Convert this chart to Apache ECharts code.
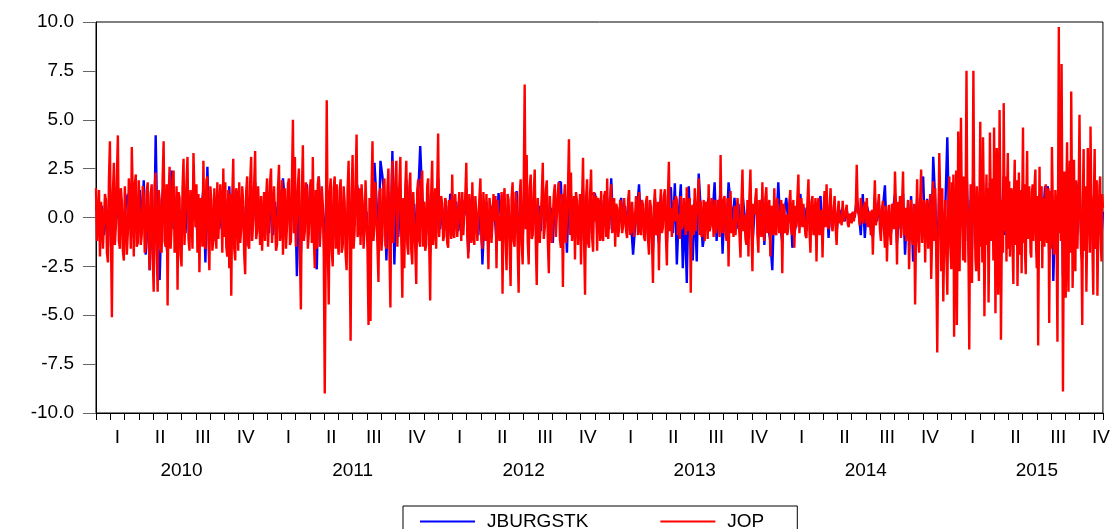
<!DOCTYPE html>
<html>
<head>
<meta charset="utf-8">
<script src="https://cdn.jsdelivr.net/npm/echarts@6.0.0/dist/echarts.min.js"></script>
<style>
  html, body { margin: 0; padding: 0; background: #ffffff; }
  #chart { width: 1113px; height: 529px; }
</style>
</head>
<body>
<div id="chart"></div>
<script>
// Daily returns of JBURGSTK and JOP, one array per calendar year.
const years = [2010, 2011, 2012, 2013, 2014, 2015];
const lastObs = { year: 2015, month: 11, day: 20 };
const quarterLabels = ['I', 'II', 'III', 'IV'];
const seriesNames = ['JBURGSTK', 'JOP'];

const jburgstk2010 = [
  0.4, 0.8, -0.5, 0.6, -0.9, 0.3, -1.5, 1.2, -1.2, 1.0,
  -0.4, 1.1, -0.8, 0.5, -1.1, 0.7, 1.2, -0.6, 1.0, -1.0,
  0.9, -0.7, 1.4, -0.3, 1.9, -1.9, 0.8, -2.7, 0.5, -2.6,
  4.2, -1.5, -3.2, 0.6, 1.8, -0.9, -2.0, 1.2, 2.4, -0.6,
  1.0, -1.6, 0.4, -1.2, 1.6, -0.8, 1.4, -0.5, 0.3, 1.7,
  0.6, -0.9, -1.4, 0.4, 1.5, -2.3, 2.6, -1.1, 0.5, -1.2,
  0.7, 1.0, -0.6, 0.4, 1.2, 0.9, -0.8, 1.6, -1.3, 1.4,
  -1.0, 0.8, 1.0, -0.4, 0.6, -1.5, 1.1, -1.2, 1.6, -0.2,
  1.8, -0.5, 0.3, 0.7, -0.4, -0.9
];
const jburgstk2011 = [
  1.0, -0.8, 1.3, -0.9, 0.8, -0.6, 1.4, -0.3, 2.0, 0.7,
  -0.4, 1.1, -0.7, 2.2, 1.5, -3.0, 1.0, -1.8, 1.6, -0.4,
  1.7, -0.6, 1.2, 1.5, -1.4, -2.65, 2.1, -0.3, 0.6, -2.0,
  1.8, -1.5, 1.0, -1.2, 1.1, 0.8, -1.0, 1.0, -1.4, 0.5,
  -1.3, 1.4, -2.0, 1.5, -0.4, 1.8, 1.2, -0.9, 0.6, -0.4,
  0.3, -1.9, -2.1, 1.6, 2.8, 0.9, -1.5, 2.9, 2.1, 1.0,
  -2.2, 1.3, -1.8, 3.4, -2.4, 1.6, -1.0, 1.4, -1.8, -1.2,
  1.95, -0.8, 1.4, -1.3, 0.7, -1.6, 1.2, 3.65, 1.0, 0.5,
  -0.9, 1.2, -1.8, 1.3, -0.3, -0.8
];
const jburgstk2012 = [
  2.0, -0.6, 0.5, -0.7, 0.6, -0.9, 1.2, 1.1, -0.6, 0.8,
  -0.7, 0.2, 0.9, 0.1, 1.5, -1.8, 0.3, 1.1, -0.8, 0.2,
  -0.9, 1.2, -2.4, 0.1, 0.8, -1.3, 0.6, 0.2, 0.3, -1.2,
  1.25, 0.2, -1.6, 1.0, -1.3, 0.6, -1.5, 0.9, -0.8, 1.35,
  -1.6, 1.1, -1.2, 2.0, 1.2, -1.0, 1.3, -0.4, 1.1, -1.6,
  0.6, -0.7, 1.4, -0.3, 0.9, -1.3, 0.5, -1.3, 1.0, 0.2,
  1.8, 1.8, -1.2, 0.9, -1.8, 1.6, 1.2, -0.7, -1.1, 0.5,
  0.1, -1.2, 1.4, -1.6, 1.0, -0.8, 1.2, 1.2, 1.2, -0.6,
  0.7, 0.9, -0.5, 0.8, 1.0
];
const jburgstk2013 = [
  -0.6, 2.0, -0.4, -0.8, 0.4, -0.2, 1.0, -0.3, 0.6, -0.7,
  0.8, -0.3, -1.9, -0.5, 0.4, 1.7, -0.6, 0.5, -0.9, 0.8,
  -1.2, 0.3, -1.6, 1.0, -0.5, -1.3, 1.0, -0.2, 1.2, -1.3,
  1.2, 1.55, -0.8, 1.75, -2.4, 0.2, 1.7, -2.6, 0.3, -3.35,
  1.6, -0.9, -2.2, 0.9, -2.25, 2.25, 0.4, -1.5, -0.8, 0.4,
  1.0, -0.3, 0.2, 1.8, -1.2, 0.2, 1.4, -1.85, 0.7, -0.7,
  1.8, 0.8, -0.2, 1.0, -0.6, 0.7, -1.2, 1.2, 0.2, -0.8,
  -1.1, 1.2, -1.4, 0.2, 0.9, -1.0, 0.6, 1.0, -1.4, 0.8,
  -0.5, -1.2, -2.7, 0.9, -0.5, 1.8
];
const jburgstk2014 = [
  -0.4, -1.3, 0.3, 1.0, -0.3, 0.8, -1.55, -0.8, -0.3, 1.0,
  1.2, -0.4, 0.5, -0.7, 1.0, -0.9, 0.6, -0.5, -1.1, 0.6,
  1.1, -1.0, 0.8, 1.0, -1.05, 0.8, -0.4, 0.6, -0.8, 0.5,
  0.1, 0.5, -0.2, 0.4, -0.3, 0.1, 0.2, 0.0, 1.0, 0.3,
  -0.9, 1.2, -1.05, 0.6, 0.2, -0.6, -1.0, 1.0, -0.2, 0.7,
  -0.7, 0.5, 1.65, -1.2, 0.4, -0.8, 0.4, 1.2, -1.3, 0.15,
  -0.6, 1.2, -1.9, 0.3, -1.2, 1.1, -2.25, -1.6, 1.0, -0.9,
  1.3, 2.1, -1.2, 0.95, -0.3, -1.7, 3.1, 0.8, -2.4, 1.4,
  -1.3, -1.8, 0.5, 4.1, -1.2
];
const jburgstk2015 = [
  -1.2, 1.5, -2.5, 0.4, -2.0, 1.95, -1.0, 2.2, -0.3, 1.0,
  -1.2, 2.8, 0.1, -2.6, 0.9, -1.6, 2.7, 0.2, -1.2, 0.4,
  -1.5, 2.0, 0.5, 1.8, -2.2, 0.3, 1.5, -1.8, 1.8, -0.6,
  0.8, 1.9, -2.0, 1.5, -1.5, 2.0, -2.2, 0.4, 2.1, -0.9,
  -0.8, 1.2, 0.7, -0.9, 0.6, -1.3, 1.1, -0.2, -1.4, 0.9,
  -0.8, -1.0, 1.7, 0.6, -1.1, 1.3, -0.5, 0.7, -0.9, 0.8,
  0.1, 1.0, -1.0, -2.5, 1.2, 0.3, -1.0, 0.5, 1.6, 0.9,
  1.6, -2.0, 0.6, 1.4, -3.25, -0.6, 0.3, -2.4, 2.75, 0.6,
  2.4, -3.0, 1.0, -1.6, 1.5, -1.5, 1.1, 2.4, -1.4, 1.2,
  -1.1, 0.2, 1.5, 2.0, -0.6, -2.1, 1.4, -0.6, -1.5, 1.4,
  1.8, 1.8, 0.3, -1.5, 1.4, -0.6, -1.6, 0.1, 0.9, -0.9,
  0.3
];

const jop2010 = [
  1.5, -1.2, -0.3, 1.4, -2.0, 0.8, 0.2, -1.6, -1.5, 1.2, 0.9, -1.8, -2.3, 1.9, 3.9, -1.0, -5.1, 1.3, 2.8, -1.4,
  -0.4, 2.1, 4.2, -1.2, -1.6, 1.5, 0.8, -1.7, -2.2, 1.6, 1.5, -1.9, -0.8, 2.0, 0.6, -1.6, 3.6, 1.1, -2.0, 1.7,
  2.2, -1.5, -1.3, 1.9, 2.0, -1.4, -0.9, 1.6, 1.1, -1.8, -1.5, 1.4, 1.8, -1.3, -2.7, 1.2, 1.7, -1.9, -3.8, 1.6,
  2.3, -1.7, -3.8, 1.4, 0.9, -1.5, -1.8, 2.0, 3.9, -1.2, -1.5, 1.7, -4.5, 1.1, 2.6, -1.6, -0.5, 1.9, 2.4, -1.8,
  -1.5, 1.6, -3.7, 1.3, 1.0, -1.9, -2.5, 1.5, 3.0, -1.4, -1.3, 1.8, 3.1, -1.1, -1.7, 1.4, 0.5, -1.6, 3.3, 1.2,
  -0.5, 1.7, -1.8, 1.2, -2.8, 1.0, 0.6, -1.5, 2.9, -1.3, -1.6, 1.9, 2.1, -1.2, -2.7, 1.6, 0.9, -1.7, -1.2, 1.5,
  1.4, -1.6, 1.8, -1.1, -1.2, 1.7, 0.5, -1.8, 2.5, -1.0, 1.8, -1.5, -2.0, 1.4, -2.6, 1.2, -4.0, 1.1, 3.0, -1.6,
  -2.2, 1.5, 1.1, -1.7, 1.8, -1.3, -0.6, 1.6, 0.8, -1.9, -2.9, 1.3, 2.1, -1.4, -1.6, 1.8, 3.1, -1.2, -0.3, 1.7,
  3.4, -1.1, -0.7, 1.6, 0.2, -1.4, 1.1, -1.7, -0.1, 1.3, -1.2, 1.0
];
const jop2011 = [
  2.0, -1.5, -1.4, 1.8, 2.5, -1.3, -1.4, 1.6, 1.5, -1.7, -1.4, 1.5, 2.7, -1.2, -0.7, 1.9, -1.9, 1.1, 1.5, -1.6,
  -0.5, 1.7, 2.0, -1.4, -1.2, 1.9, 5.0, -0.8, 3.1, -1.5, -1.4, 1.6, 2.5, -1.8, -4.7, 1.3, 3.7, -1.2, -0.7, 1.8,
  1.4, -1.6, -0.8, 1.5, 1.95, -1.3, 3.1, -1.1, -2.6, 1.4, -1.6, 1.7, 2.1, -1.5, -0.4, 1.6, 0.7, -1.8, -9.0, -1.4,
  6.0, -1.2, -4.45, 1.3, 2.0, -1.7, -2.5, 1.5, 2.1, -1.6, 1.7, -1.2, -1.9, 1.4, 1.95, -1.8, -1.5, 1.6, 0.8, -1.9,
  -2.7, 1.5, 2.9, -1.3, -6.3, 1.2, 3.2, -1.6, -0.7, 1.8, 4.25, -1.0, -0.7, 1.5, -1.4, 1.7, 0.8, -1.6, -0.7, 1.9,
  0.2, -1.7, -5.5, 1.0, -5.3, 1.4, 3.9, -1.2, -0.3, 1.8, 1.9, -1.5, -3.3, 1.3, 1.5, -1.7, -0.9, 1.6, 2.0, -1.4,
  -1.6, 1.5, 2.5, -1.6, -4.6, 1.2, 2.9, -1.3, -1.4, 1.9, 2.9, -1.5, -1.5, 1.7, 3.1, -1.1, -4.1, 1.0, -2.6, 1.6,
  2.9, -1.4, -1.9, 1.5, 2.3, -1.7, -2.4, 1.3, 1.2, -1.6, -3.4, 1.4, 1.95, -1.2, -1.5, 1.8, 2.4, -1.5, 0.8, -1.7,
  -1.4, 1.6, 2.0, -1.3, -4.25, 1.2, 2.9, -1.4, -0.4, 1.5, -1.6, 1.3
];
const jop2012 = [
  4.3, -1.0, -0.9, 1.1, 0.7, -1.2, -0.95, 1.0, 0.8, -1.3, -1.55, 0.9, 0.7, -1.1, 2.2, -0.8, -1.05, 1.2, 1.2, -1.0,
  -1.1, 1.3, 0.15, -1.2, 1.3, -0.9, 0.15, 1.1, 2.8, -1.0, -2.1, 1.2, 0.2, -1.3, 1.8, -0.9, -1.4, 1.1, 0.15, -1.2,
  -1.2, 1.0, 2.0, -1.1, -1.6, 1.3, 0.0, -1.2, 1.2, -0.8, -2.65, 1.0, 0.5, -1.3, -0.3, 1.2, -0.2, 1.1, -2.6, 0.9,
  0.8, -1.2, -0.5, 1.3, -3.9, 0.8, 1.5, -1.1, -2.7, 1.2, 0.9, -1.4, -3.5, 1.0, 1.8, -1.2, -1.5, 1.3, 0.7, -1.5,
  -3.85, 1.1, 1.95, -1.3, -2.4, 1.4, 6.8, -0.6, 3.2, -1.2, -2.4, 1.5, 2.2, -1.1, -0.9, 1.3, 2.45, -1.2, -3.45, 1.0,
  1.1, -1.3, -1.3, 1.2, 2.8, -1.1, -0.5, 1.4, 1.9, -1.2, -2.85, 1.1, 1.0, -1.3, -1.3, 1.2, 1.7, -1.0, 0.15, 1.3,
  1.8, -1.1, -1.55, 1.2, -3.55, 0.9, 1.7, -1.3, -1.2, 1.4, 4.0, -0.9, 2.3, -1.2, -1.3, 1.1, -2.15, 1.3, 0.85, -1.4,
  -0.1, 1.2, -2.4, 0.8, 3.05, -1.1, -3.95, 1.0, 1.95, -1.3, -1.55, 1.2, 2.45, -1.0, -1.75, 1.3, -0.2, 1.1, -1.7, 1.0,
  0.5, -1.2, 1.35, -0.9, -1.2, 1.1, 1.35, -1.0, 2.0, -1.1
];
const jop2013 = [
  -1.2, 0.9, 1.7, -0.8, -0.8, 1.0, -1.5, 0.7, 0.5, -1.0, -0.5, 0.9, 0.7, -0.8, -0.45, 1.0, 1.0, -0.7, -1.05, 0.9,
  1.4, -0.9, -0.7, 0.8, 0.85, -1.0, -0.9, 1.1, 0.15, -0.9, 1.3, -0.6, -0.9, 0.9, 0.65, -1.0, -1.2, 0.8, 1.1, -1.1,
  -1.9, 0.9, 0.5, -1.2, -3.35, 0.6, 1.45, -0.9, -0.9, 0.8, -2.7, 0.5, 1.45, -0.8, -0.5, 1.1, 1.45, -0.9, -2.45, 1.0,
  2.85, -0.7, 0.5, -1.0, -1.05, 0.9, -0.2, 1.1, 0.9, -0.9, 0.15, -1.1, 1.1, -0.6, -0.4, 1.0, 0.15, -0.9, 1.55, -0.7,
  -0.6, 1.0, -3.85, 0.5, 0.65, -0.9, 1.5, -0.7, -0.8, 1.0, 2.0, -0.9, 0.85, -1.0, -0.4, 0.9, -1.2, 0.8, 0.65, -1.1,
  1.7, -0.7, -0.45, 1.0, 0.15, -1.0, 0.9, -0.8, -0.6, 0.9, 0.15, -1.0, 3.2, -0.6, -0.8, 0.9, 1.1, -0.8, -1.2, 1.0,
  -2.5, 0.6, 1.35, -0.8, -0.1, -1.0, 0.6, -0.9, -0.9, 1.0, 1.1, -0.9, -2.05, 0.8, 2.45, -0.7, 0.15, -1.1, -1.4, 0.9,
  -2.0, 1.1, 2.45, -0.6, -2.75, 0.7, 0.15, 1.0, 1.5, -0.9, -1.8, 0.9, 0.85, -1.0, 1.8, -0.7, -1.2, 1.0, 1.55, -0.8,
  -0.9, 0.9, -2.0, 0.6, 0.3, -0.9, 1.5, -0.7, -0.9, 1.0, 0.15, -0.8
];
const jop2014 = [
  -0.8, 0.9, -2.85, 0.7, 0.5, -0.8, 0.15, -0.9, -0.5, 0.8, 1.4, -0.7, -0.9, 0.9, -1.55, 0.6, -0.5, 1.0, 2.2, -0.8,
  0.15, 1.0, -0.5, 0.7, 0.65, -0.9, -1.05, 0.8, 1.95, -0.7, -1.8, 0.8, 1.1, -0.9, -0.9, 1.0, -2.25, 0.5, 1.0, -0.9,
  -0.2, 0.4, -2.05, 0.3, 1.35, -0.5, 1.7, -0.3, -0.6, 0.5, 1.5, -0.4, -0.7, 0.3, 1.1, -0.5, -1.4, 0.2, 0.85, -0.3,
  0.15, -0.4, 0.85, -0.2, -0.2, 0.3, 0.65, -0.3, -0.5, 0.2, 0.15, -0.3, 0.3, -0.2, -0.1, 0.4, 2.7, 0.3, 0.15, -0.4,
  1.0, 0.2, -0.3, 0.4, 0.8, -0.3, 1.0, -0.5, 0.15, 0.3, -0.9, 0.4, -1.9, 0.2, 1.9, -0.4, -0.35, 0.5, 1.2, -0.6,
  -1.2, 0.4, 0.85, -0.5, -1.55, 0.6, -2.25, -0.3, 0.65, -0.8, -1.4, 0.7, 0.65, -0.6, 2.35, 0.5, -2.4, 0.8, -0.5, 1.1,
  -1.05, 0.6, 2.35, -0.9, 0.5, -1.2, 0.15, 0.9, -2.65, -0.4, 0.9, -1.1, -1.4, 0.7, -4.45, -0.6, 1.95, -1.0, -1.8, 0.8,
  2.45, -1.3, 0.15, 0.9, -2.3, 0.4, 0.9, -1.6, -0.5, 1.2, -3.15, -0.8, 1.85, -1.2, 1.5, -2.0, -6.9, -1.4, 3.3, 1.0,
  -2.75, 1.5, -4.3, -0.9, 0.9, -1.6, -3.95, 0.8, 2.1, -1.5
];
const jop2015 = [
  -2.65, 1.8, -0.9, 2.2, -6.1, -1.5, 0.0, 2.4, -5.5, -1.2, 4.4, -1.8, -2.75, 1.6, 5.1, 1.2, -0.35, -2.2, 2.1, -1.6,
  -2.3, 2.0, 7.5, 1.0, 0.15, -2.4, -6.75, -1.0, 1.7, -1.9, -3.35, 1.4, 7.5, 1.8, 0.15, -2.1, -2.75, 1.6, 0.5, -1.8,
  -3.25, 1.2, 4.9, -1.5, 0.8, -2.3, 4.1, 1.1, -5.05, -1.6, 0.15, 2.2, -1.4, 1.5, -4.35, -1.1, 4.35, 1.3, -1.2, 2.0,
  1.6, -2.2, 4.6, 1.4, -4.9, -1.3, 3.55, 1.7, -3.95, -1.2, 5.5, 1.6, -6.25, -2.0, 0.9, -1.8, 5.85, 1.2, -0.7, 2.1,
  -2.25, 1.3, 3.3, -1.6, 1.85, -2.0, -0.4, 1.5, 1.35, -1.7, -3.4, 1.1, 2.95, -1.4, -0.35, 1.9, -3.5, -1.0, 2.3, -1.5,
  -1.9, 1.4, -2.85, 0.9, 4.6, -1.3, 1.7, -1.9, -2.9, 1.2, 3.4, -1.1, -1.05, 1.6, 1.6, -1.8, -2.05, 1.3, 1.7, -1.2,
  0.15, 1.8, 2.45, -1.4, -2.6, 1.1, -6.55, -1.5, 2.6, -1.2, 0.5, 1.6, -2.6, 1.0, 0.65, -1.5, -0.5, 1.7, 1.0, -1.3,
  -0.2, 1.5, -5.4, -1.0, 1.35, -1.6, 3.6, 1.2, 0.0, -1.9, -1.55, 1.4, 0.6, -2.2, -6.35, 1.8, 9.75, -0.8, 1.5, -1.2,
  7.85, 1.2, -8.9, -2.0, 2.35, -1.6, -4.1, 1.4, 3.85, -2.1, -3.8, 1.6, 2.9, -1.8, 6.45, 1.3, -3.6, -1.2, 2.95, -1.5,
  -2.75, 1.9, 0.15, -1.6, -1.55, 1.8, 5.25, 1.1, -1.4, -2.3, -5.5, 1.2, 3.5, -1.7, -1.4, 1.6, -3.8, -1.1, 3.55, 1.5,
  0.5, -1.8, 4.65, 1.2, 0.65, -2.0, -3.95, 1.3, 3.5, -1.6, -1.4, 1.9, -4.0, -1.3, 0.15, 1.6, 2.1, -1.4, -2.25, 1.2,
  0.5
];

const jburgstkByYear = [jburgstk2010, jburgstk2011, jburgstk2012, jburgstk2013, jburgstk2014, jburgstk2015];
const jopByYear = [jop2010, jop2011, jop2012, jop2013, jop2014, jop2015];

// The x axis counts months since the start of the first year.
const startYear = years[0];
const endMonth = (lastObs.year - startYear) * 12 + (lastObs.month - 1) + (lastObs.day - 1) / 30;

// Trading days are spread evenly within each year; the final year stops at the last observation.
function placeByYear(perYear) {
  const out = [];
  perYear.forEach((vals, k) => {
    const t0 = (years[k] - startYear) * 12;
    const isLast = years[k] === lastObs.year;
    const span = isLast ? endMonth - t0 : 12;
    const steps = isLast ? vals.length - 1 : vals.length;
    vals.forEach((v, j) => out.push([t0 + span * j / steps, v]));
  });
  return out;
}

const FONT = 'Liberation Sans, Arial, sans-serif';
const near = (a, b) => Math.abs(a - b) < 1e-6;

const chart = echarts.init(document.getElementById('chart'), null, { renderer: 'canvas' });
chart.setOption({
  animation: false,
  backgroundColor: '#ffffff',
  grid: {
    left: 96, top: 22, width: 1008, height: 391,
    show: true, borderColor: '#000000', borderWidth: 1, backgroundColor: 'transparent'
  },
  legend: {
    data: seriesNames,
    left: 403, top: 506,
    orient: 'horizontal',
    icon: 'rect',
    itemWidth: 55, itemHeight: 2, itemGap: 72,
    padding: [6, 33, 10, 17],
    borderColor: '#000000', borderWidth: 1,
    textStyle: { fontFamily: FONT, fontSize: 19, color: '#000000', padding: [0, 0, 0, 7] }
  },
  xAxis: [
    { // monthly ticks along the bottom edge
      type: 'value', position: 'bottom', min: 0, max: endMonth, interval: 1,
      axisLine: { show: true, onZero: false, lineStyle: { color: '#000000', width: 1 } },
      axisTick: { show: true, length: 7, lineStyle: { color: '#000000', width: 1 } },
      axisLabel: { show: false }, splitLine: { show: false }
    },
    { // quarter names centred in each quarter
      type: 'value', position: 'bottom', min: 0, max: endMonth, interval: 1.5,
      axisLine: { show: false }, axisTick: { show: false }, splitLine: { show: false },
      axisLabel: {
        margin: 15, fontFamily: FONT, fontSize: 19, color: '#000000', showMaxLabel: false,
        formatter: v => {
          const h = Math.round(v / 1.5);
          if (!near(v, h * 1.5) || h % 2 === 0) return '';
          return quarterLabels[((h - 1) / 2) % 4];
        }
      }
    },
    { // year captions centred under each year
      type: 'value', position: 'bottom', min: 0, max: endMonth, interval: 6,
      axisLine: { show: false }, axisTick: { show: false }, splitLine: { show: false },
      axisLabel: {
        margin: 48, fontFamily: FONT, fontSize: 19, color: '#000000', showMaxLabel: false,
        formatter: v => {
          const h = Math.round(v / 6);
          if (!near(v, h * 6) || h % 2 === 0) return '';
          return String(startYear + (h - 1) / 2);
        }
      }
    }
  ],
  yAxis: {
    type: 'value', min: -10, max: 10, interval: 2.5,
    axisLine: { show: true, onZero: false, lineStyle: { color: '#000000', width: 1 } },
    axisTick: { show: true, length: 13, lineStyle: { color: '#666666', width: 1 } },
    axisLabel: {
      margin: 22, fontFamily: FONT, fontSize: 19, color: '#000000',
      formatter: v => v.toFixed(1)
    },
    splitLine: { show: false }
  },
  series: [
    {
      name: seriesNames[0], type: 'line', xAxisIndex: 0, yAxisIndex: 0,
      data: placeByYear(jburgstkByYear), symbol: 'none', showSymbol: false,
      lineStyle: { color: '#0000ff', width: 2.4 }, itemStyle: { color: '#0000ff' }, z: 2
    },
    {
      name: seriesNames[1], type: 'line', xAxisIndex: 0, yAxisIndex: 0,
      data: placeByYear(jopByYear), symbol: 'none', showSymbol: false,
      lineStyle: { color: '#ff0000', width: 2.4 }, itemStyle: { color: '#ff0000' }, z: 3
    }
  ]
});
</script>
</body>
</html>
